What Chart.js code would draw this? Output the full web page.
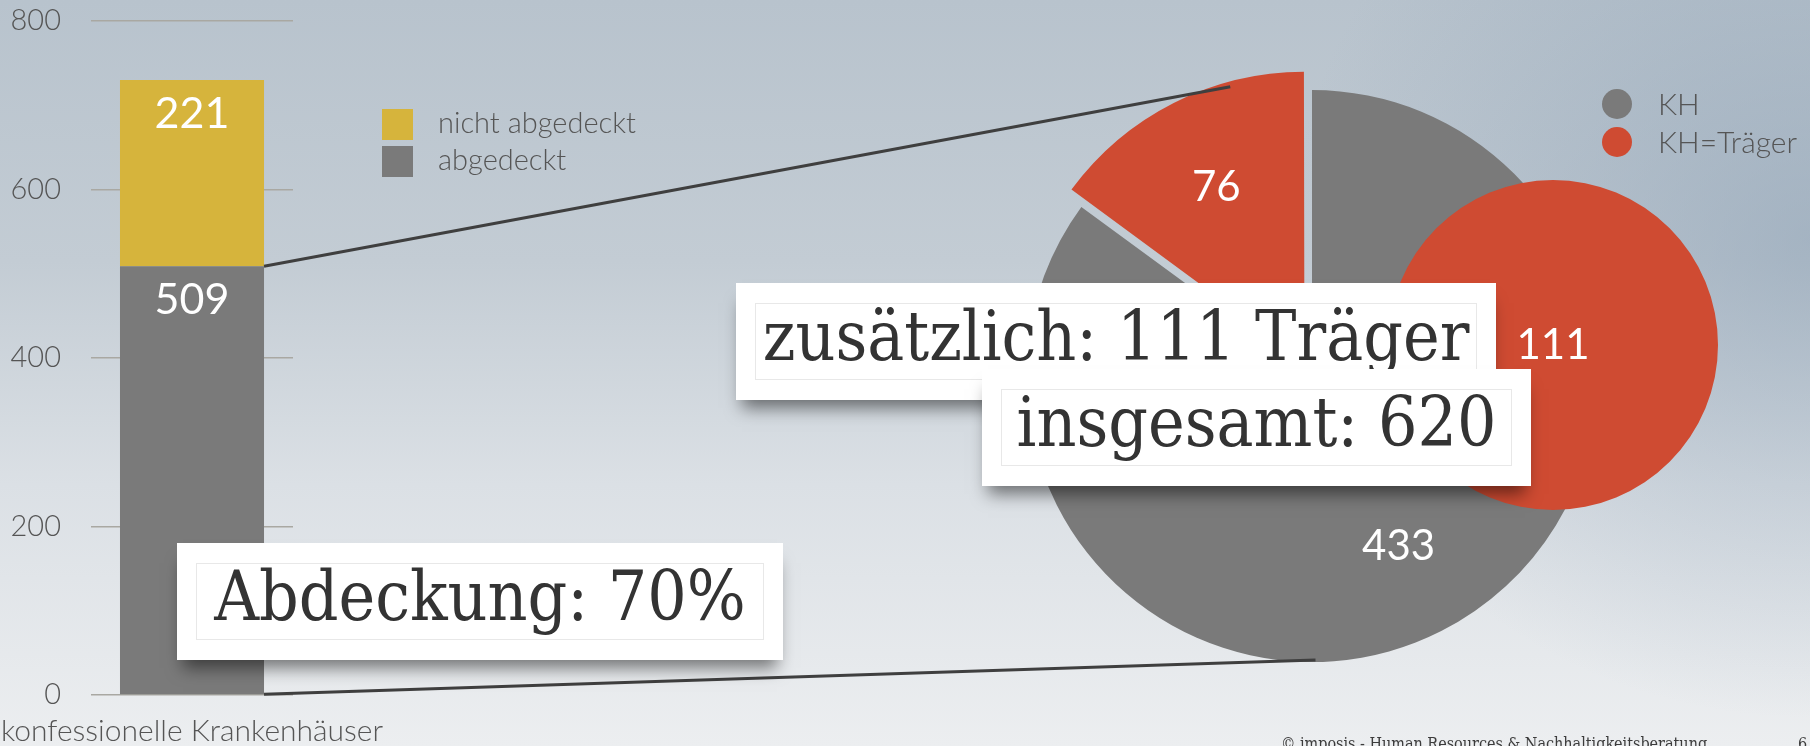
<!DOCTYPE html>
<html lang="de">
<head>
<meta charset="utf-8">
<title>Abdeckung konfessionelle Krankenhäuser</title>
<script src="https://cdn.jsdelivr.net/npm/chart.js@4.4.1/dist/chart.umd.min.js"></script>
<style>
  html, body { margin: 0; padding: 0; }
  body {
    width: 1810px; height: 746px; overflow: hidden; position: relative;
    background:
      radial-gradient(ellipse 520px 480px at 100% 32%, rgba(140,160,180,0.55), rgba(140,160,180,0) 100%),
      linear-gradient(180deg, #b8c3cd 0%, #c3ccd4 35%, #dbe0e5 65%, #eceef0 100%);
  }
  canvas.layer { position: absolute; left: 0; top: 0; }
  .box {
    position: absolute; height: 117px; background: #fff;
    box-shadow: 0 14px 16px -6px rgba(0,0,0,0.5);
    font-family: "DejaVu Serif Condensed", "DejaVu Serif", serif;
    font-stretch: condensed; font-size: 69px; line-height: 107px;
    color: #333; text-align: center; white-space: nowrap;
  }
  .box::before {
    content: ''; position: absolute; left: 19px; right: 19px; top: 20px; bottom: 20px;
    border: 1px solid rgba(0,0,0,0.09);
  }
  .footer {
    position: absolute; top: 734px; font-size: 16px; color: #3c3c3c;
    font-family: "DejaVu Serif Condensed", "DejaVu Serif", serif; font-stretch: condensed;
    white-space: nowrap;
  }
</style>
</head>
<body>
<canvas id="bar" class="layer" width="1810" height="746"></canvas>
<canvas id="pie" class="layer" width="1810" height="746"></canvas>
<canvas id="extra" class="layer" width="1810" height="746"></canvas>

<div class="box" style="left:177px; top:543px; width:606px;">Abdeckung: 70%</div>
<div class="box" style="left:736px; top:283px; width:760px;">zusätzlich: 111 Träger</div>
<div class="box" style="left:982px; top:369px; width:549px;">insgesamt: 620</div>
<div class="footer" style="left:1281px;">© imposis - Human Resources &amp; Nachhaltigkeitsberatung</div>
<div class="footer" style="left:1798px;">6</div>

<script>
// data
const barCategories = ['konfessionelle Krankenhäuser'];
const coveredValues = [509];
const uncoveredValues = [221];
const yTicks = [0, 200, 400, 600, 800];

const pieLabels = ['KH', 'KH=Träger'];
const pieValues = [433, 76];
const extraLabels = ['KH=Träger'];
const extraValues = [111];

// colours and fonts
const GRAY = '#7a7a7a';
const YELLOW = '#d6b43c';
const RED = '#cf4b32';
const TEXT = '#555555';
const SANS = 'Lato, "Open Sans", sans-serif';

// white value labels near the top of each bar segment
const barValueLabels = {
  id: 'barValueLabels',
  afterDatasetsDraw(chart) {
    const ctx = chart.ctx;
    ctx.save();
    ctx.fillStyle = '#fff';
    ctx.font = '400 43px ' + SANS;
    ctx.textAlign = 'center';
    ctx.textBaseline = 'middle';
    chart.data.datasets.forEach((ds, i) => {
      chart.getDatasetMeta(i).data.forEach((el, j) => {
        ctx.fillText(String(ds.data[j]), el.x, el.y + 34);
      });
    });
    ctx.restore();
  }
};

// square legend next to the bar
const barLegend = {
  id: 'barLegend',
  afterDraw(chart) {
    const ctx = chart.ctx;
    const items = chart.data.datasets.slice().reverse();
    ctx.save();
    ctx.font = '300 29px ' + SANS;
    ctx.textBaseline = 'middle';
    items.forEach((ds, i) => {
      const y = 109 + i * 37;
      ctx.fillStyle = ds.backgroundColor;
      ctx.fillRect(382, y, 31, 31);
      ctx.fillStyle = TEXT;
      ctx.fillText(ds.label, 438, y + 15);
    });
    ctx.restore();
  }
};

// keep the scale labels from pushing the chart area around
function noScalePadding(s) {
  s.paddingLeft = 0; s.paddingRight = 0; s.paddingTop = 0; s.paddingBottom = 0;
}

const barChart = new Chart(document.getElementById('bar'), {
  type: 'bar',
  data: {
    labels: barCategories,
    datasets: [
      { label: 'abgedeckt', data: coveredValues, backgroundColor: GRAY },
      { label: 'nicht abgedeckt', data: uncoveredValues, backgroundColor: YELLOW }
    ]
  },
  options: {
    responsive: false,
    animation: false,
    events: [],
    layout: { padding: { left: 0, top: 21, right: 1517, bottom: 0 } },
    datasets: { bar: { barPercentage: 0.713, categoryPercentage: 1 } },
    plugins: { legend: { display: false }, tooltip: { enabled: false } },
    scales: {
      x: {
        stacked: true,
        grid: { display: false, drawTicks: false },
        border: { display: false },
        ticks: { color: TEXT, font: { family: SANS, size: 30, weight: 300 }, padding: 18, maxRotation: 0, autoSkip: false },
        afterFit: s => { s.height = 51; noScalePadding(s); }
      },
      y: {
        stacked: true,
        min: yTicks[0],
        max: yTicks[yTicks.length - 1],
        afterBuildTicks: s => { s.ticks = yTicks.map(v => ({ value: v })); },
        grid: { color: '#a9a8a2', lineWidth: 1.5, drawTicks: false },
        border: { display: false },
        ticks: { color: TEXT, font: { family: SANS, size: 29, weight: 300 }, padding: 30 },
        afterFit: s => { s.width = 91; noScalePadding(s); }
      }
    }
  },
  plugins: [barValueLabels, barLegend]
});

// how far Chart.js shifts an arc drawn with an offset
function arcShift(el) {
  const off = (el.options.offset || 0) / 4;
  const fix = 1 - Math.sin(Math.min(Math.PI, el.circumference || 0));
  const t = off + off * fix;
  const mid = (el.startAngle + el.endAngle) / 2;
  return { dx: Math.cos(mid) * t, dy: Math.sin(mid) * t, mid };
}

const pieValueLabels = {
  id: 'pieValueLabels',
  afterDatasetsDraw(chart) {
    const ctx = chart.ctx;
    const values = chart.data.datasets[0].data;
    ctx.save();
    ctx.fillStyle = '#fff';
    ctx.font = '400 42px ' + SANS;
    ctx.textAlign = 'center';
    ctx.textBaseline = 'middle';
    chart.getDatasetMeta(0).data.forEach((el, i) => {
      const s = arcShift(el);
      const r = el.outerRadius * 0.67;
      ctx.fillText(String(values[i]), el.x + s.dx + Math.cos(s.mid) * r, el.y + s.dy + Math.sin(s.mid) * r);
    });
    ctx.restore();
  }
};

// round legend, top right
const pieLegend = {
  id: 'pieLegend',
  afterDraw(chart) {
    const ctx = chart.ctx;
    const colors = chart.data.datasets[0].backgroundColor;
    ctx.save();
    ctx.font = '300 30px ' + SANS;
    ctx.textBaseline = 'middle';
    chart.data.labels.forEach((lab, i) => {
      const y = 104 + i * 38;
      ctx.fillStyle = colors[i];
      ctx.beginPath();
      ctx.arc(1617, y, 15, 0, Math.PI * 2);
      ctx.fill();
      ctx.fillStyle = TEXT;
      ctx.fillText(lab, 1658, y + 1);
    });
    ctx.restore();
  }
};

// lines from the covered bar segment to the pie
const connectorLines = {
  id: 'connectorLines',
  afterDatasetsDraw(chart) {
    const bar = barChart.getDatasetMeta(0).data[0];
    const arcs = chart.getDatasetMeta(0).data;
    const red = arcs[1], gray = arcs[0];
    const rs = arcShift(red);
    const a1 = red.endAngle - 15 * Math.PI / 180;
    const p1 = { x: red.x + rs.dx + Math.cos(a1) * (red.outerRadius - 5), y: red.y + rs.dy + Math.sin(a1) * (red.outerRadius - 5) };
    const a2 = 89.3 * Math.PI / 180;
    const p2 = { x: gray.x + Math.cos(a2) * gray.outerRadius, y: gray.y + Math.sin(a2) * (gray.outerRadius - 2) };
    const right = bar.x + bar.width / 2;
    const ctx = chart.ctx;
    ctx.save();
    ctx.strokeStyle = '#3f3f3f';
    ctx.lineWidth = 3;
    ctx.beginPath();
    ctx.moveTo(right, bar.y);
    ctx.lineTo(p1.x, p1.y);
    ctx.moveTo(right, bar.base);
    ctx.lineTo(p2.x, p2.y);
    ctx.stroke();
    ctx.restore();
  }
};

new Chart(document.getElementById('pie'), {
  type: 'pie',
  data: {
    labels: pieLabels,
    datasets: [{ data: pieValues, backgroundColor: [GRAY, RED], borderWidth: 0, offset: [0, 67], radius: 286 }]
  },
  options: {
    responsive: false,
    animation: false,
    events: [],
    layout: { padding: { left: 992, right: 178, top: 56, bottom: 50 } },
    plugins: { legend: { display: false }, tooltip: { enabled: false } }
  },
  plugins: [pieValueLabels, pieLegend, connectorLines]
});

// separate red circle for the additional Träger
const centerLabel = {
  id: 'centerLabel',
  afterDatasetsDraw(chart) {
    const ctx = chart.ctx;
    const el = chart.getDatasetMeta(0).data[0];
    ctx.save();
    ctx.fillStyle = '#fff';
    ctx.font = '400 42px ' + SANS;
    ctx.textAlign = 'center';
    ctx.textBaseline = 'middle';
    ctx.fillText(String(chart.data.datasets[0].data[0]), el.x, el.y);
    ctx.restore();
  }
};

new Chart(document.getElementById('extra'), {
  type: 'pie',
  data: {
    labels: extraLabels,
    datasets: [{ data: extraValues, backgroundColor: [RED], borderWidth: 0, radius: 165 }]
  },
  options: {
    responsive: false,
    animation: false,
    events: [],
    layout: { padding: { left: 1388, right: 92, top: 180, bottom: 236 } },
    plugins: { legend: { display: false }, tooltip: { enabled: false } }
  },
  plugins: [centerLabel]
});
</script>
</body>
</html>
